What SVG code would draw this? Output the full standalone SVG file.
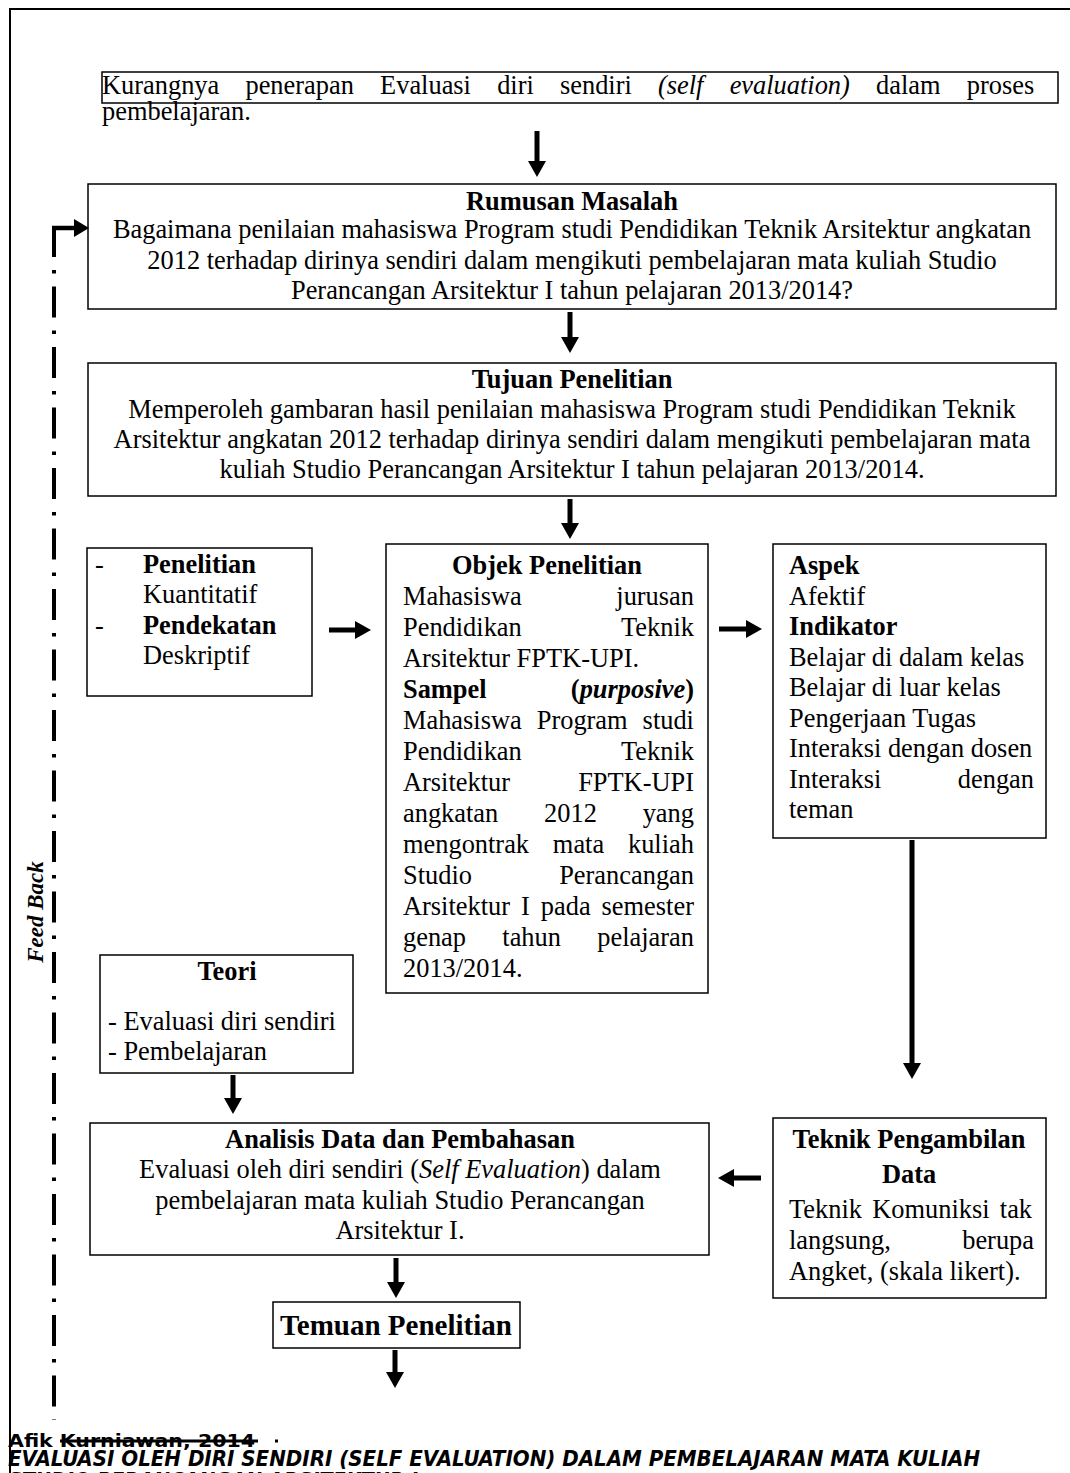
<svg xmlns="http://www.w3.org/2000/svg" width="1070" height="1473" viewBox="0 0 1070 1473">
<style>
.t{font-family:"Liberation Serif","Times New Roman",serif;font-size:26.4px;fill:#000}
.b{font-weight:bold}
.i{font-style:italic}
.c{text-anchor:middle}
.e{text-anchor:end}
.box{fill:#fff;stroke:#000;stroke-width:1.5}
.ar{stroke:#000;stroke-width:5;fill:none;marker-end:url(#ah)}
.ft{font-family:"DejaVu Sans Condensed","DejaVu Sans",sans-serif;font-weight:bold;fill:#000}
</style>
<defs>
<marker id="ah" markerUnits="userSpaceOnUse" markerWidth="16" markerHeight="18" viewBox="0 0 16 18" refX="2" refY="9" orient="auto">
<path d="M0,0 L16,9 L0,18 Z" fill="#000"/>
</marker>
</defs>
<rect width="1070" height="1473" fill="#fff"/>
<g id="frame" stroke="#000" stroke-width="2" fill="none">
<path d="M1070,9 H10 V1473"/>
</g>

<g id="masalah-awal">
<rect class="box" x="102" y="72" width="956" height="31"/>
<text class="t" x="102" y="94" style="word-spacing:19.6px">Kurangnya penerapan Evaluasi diri sendiri <tspan class="i">(self evaluation)</tspan> dalam proses</text>
<text class="t" x="102" y="120">pembelajaran.</text>
</g>

<g id="rumusan">
<rect class="box" x="88" y="184" width="968" height="125"/>
<text class="t b c" x="572" y="210">Rumusan Masalah</text>
<text class="t c" x="572" y="238">Bagaimana penilaian mahasiswa Program studi Pendidikan Teknik Arsitektur angkatan</text>
<text class="t c" x="572" y="268.5">2012 terhadap dirinya sendiri dalam mengikuti pembelajaran mata kuliah Studio</text>
<text class="t c" x="572" y="299">Perancangan Arsitektur I tahun pelajaran 2013/2014?</text>
</g>

<g id="tujuan">
<rect class="box" x="88" y="363" width="968" height="133"/>
<text class="t b c" x="572" y="388">Tujuan Penelitian</text>
<text class="t c" x="572" y="418">Memperoleh gambaran hasil penilaian mahasiswa Program studi Pendidikan Teknik</text>
<text class="t c" x="572" y="448">Arsitektur angkatan 2012 terhadap dirinya sendiri dalam mengikuti pembelajaran mata</text>
<text class="t c" x="572" y="478">kuliah Studio Perancangan Arsitektur I tahun pelajaran 2013/2014.</text>
</g>

<g id="metode">
<rect class="box" x="87" y="548" width="225" height="148"/>
<text class="t" x="95" y="573">-</text>
<text class="t b" x="143" y="573">Penelitian</text>
<text class="t" x="143" y="603">Kuantitatif</text>
<text class="t" x="95" y="634">-</text>
<text class="t b" x="143" y="634">Pendekatan</text>
<text class="t" x="143" y="664">Deskriptif</text>
</g>

<g id="objek">
<rect class="box" x="386" y="544" width="322" height="449"/>
<text class="t b c" x="547" y="574">Objek Penelitian</text>
<text class="t" x="403" y="605">Mahasiswa</text><text class="t e" x="694" y="605">jurusan</text>
<text class="t" x="403" y="636">Pendidikan</text><text class="t e" x="694" y="636">Teknik</text>
<text class="t" x="403" y="667">Arsitektur FPTK-UPI.</text>
<text class="t b" x="403" y="698">Sampel</text><text class="t b e" x="694" y="698">(<tspan class="i">purposive</tspan>)</text>
<text class="t" x="403" y="729" style="word-spacing:8.4px">Mahasiswa Program studi</text>
<text class="t" x="403" y="760">Pendidikan</text><text class="t e" x="694" y="760">Teknik</text>
<text class="t" x="403" y="791">Arsitektur</text><text class="t e" x="694" y="791">FPTK-UPI</text>
<text class="t" x="403" y="822" style="word-spacing:39.2px">angkatan 2012 yang</text>
<text class="t" x="403" y="853" style="word-spacing:17.2px">mengontrak mata kuliah</text>
<text class="t" x="403" y="884">Studio</text><text class="t e" x="694" y="884">Perancangan</text>
<text class="t" x="403" y="915" style="word-spacing:4.4px">Arsitektur I pada semester</text>
<text class="t" x="403" y="946" style="word-spacing:29.7px">genap tahun pelajaran</text>
<text class="t" x="403" y="977">2013/2014.</text>
</g>

<g id="aspek">
<rect class="box" x="773" y="544" width="273" height="294"/>
<text class="t b" x="789" y="574">Aspek</text>
<text class="t" x="789" y="605">Afektif</text>
<text class="t b" x="789" y="635">Indikator</text>
<text class="t" x="789" y="666">Belajar di dalam kelas</text>
<text class="t" x="789" y="696">Belajar di luar kelas</text>
<text class="t" x="789" y="727">Pengerjaan Tugas</text>
<text class="t" x="789" y="757">Interaksi dengan dosen</text>
<text class="t" x="789" y="788">Interaksi</text><text class="t e" x="1034" y="788">dengan</text>
<text class="t" x="789" y="818">teman</text>
</g>

<g id="teori">
<rect class="box" x="100" y="955" width="253" height="118"/>
<text class="t b c" x="227" y="980">Teori</text>
<text class="t" x="108" y="1030">- Evaluasi diri sendiri</text>
<text class="t" x="108" y="1060">- Pembelajaran</text>
</g>

<g id="analisis">
<rect class="box" x="90" y="1123" width="619" height="132"/>
<text class="t b c" x="400" y="1148">Analisis Data dan Pembahasan</text>
<text class="t c" x="400" y="1178">Evaluasi oleh diri sendiri (<tspan class="i">Self Evaluation</tspan>) dalam</text>
<text class="t c" x="400" y="1209">pembelajaran mata kuliah Studio Perancangan</text>
<text class="t c" x="400" y="1239">Arsitektur I.</text>
</g>

<g id="teknik">
<rect class="box" x="773" y="1118" width="273" height="180"/>
<text class="t b c" x="909" y="1148">Teknik Pengambilan</text>
<text class="t b c" x="909" y="1183">Data</text>
<text class="t" x="789" y="1218" style="word-spacing:3.7px">Teknik Komuniksi tak</text>
<text class="t" x="789" y="1249">langsung,</text><text class="t e" x="1034" y="1249">berupa</text>
<text class="t" x="789" y="1280">Angket, (skala likert).</text>
</g>

<g id="temuan">
<rect class="box" x="273" y="1302" width="247" height="46"/>
<text class="t b c" x="396" y="1335" style="font-size:29px">Temuan Penelitian</text>
</g>

<g id="connectors">
<path class="ar" d="M537,131 V163"/>
<path class="ar" d="M570,312 V339"/>
<path class="ar" d="M570,499 V525"/>
<path class="ar" d="M329,630 H357"/>
<path class="ar" d="M719,629 H748"/>
<path class="ar" d="M912,840 V1065"/>
<path class="ar" d="M233,1075 V1100"/>
<path class="ar" d="M761,1178 H732"/>
<path class="ar" d="M396,1258 V1284"/>
<path class="ar" d="M395,1350 V1374"/>
<g id="feedback">
<path d="M52,228 H76" stroke="#000" stroke-width="4.5" fill="none"/>
<path d="M74,219 L89,228 L74,237 Z" fill="#000"/>
<path d="M54,226 V1420" stroke="#000" stroke-width="4" fill="none" stroke-dasharray="31 13 3.5 13"/>
<path d="M60,1441 H258" stroke="#000" stroke-width="3" fill="none"/>
<rect x="275" y="1439.5" width="3" height="3" fill="#000"/>
</g>
</g>

<text class="t b i" transform="translate(43,912) rotate(-90)" text-anchor="middle" style="font-size:23px">Feed Back</text>

<g id="footer">
<text class="ft" x="8" y="1447" style="font-size:18px" textLength="247" lengthAdjust="spacingAndGlyphs">Afik Kurniawan, 2014</text>
<text class="ft" x="8" y="1466" style="font-size:21px;font-style:italic" textLength="972" lengthAdjust="spacingAndGlyphs">EVALUASI OLEH DIRI SENDIRI (SELF EVALUATION) DALAM PEMBELAJARAN MATA KULIAH</text>
<text class="ft" x="8" y="1488" style="font-size:21px;font-style:italic" textLength="410" lengthAdjust="spacingAndGlyphs">STUDIO PERANCANGAN ARSITEKTUR I</text>
</g>
</svg>
